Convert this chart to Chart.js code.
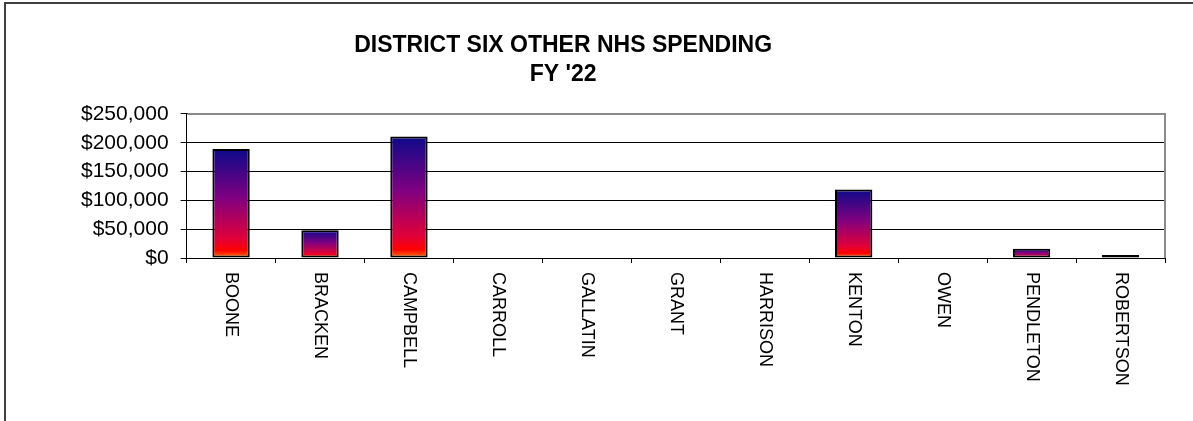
<!DOCTYPE html>
<html>
<head>
<meta charset="utf-8">
<script src="https://cdn.jsdelivr.net/npm/chart.js@4"></script>
<style>
  html, body { margin: 0; padding: 0; background: #fff; overflow: hidden; }
  #wrap { position: relative; width: 1193px; height: 421px; }
  #frame {
    position: absolute; left: 4px; top: 2px; width: 1300px; height: 500px;
    border-left: 2px solid #404040; border-top: 2px solid #404040;
    pointer-events: none;
  }
</style>
</head>
<body>
<div id="wrap">
  <canvas id="spendChart" width="1193" height="421"></canvas>
  <div id="frame"></div>
</div>
<script>
const counties = ["BOONE", "BRACKEN", "CAMPBELL", "CARROLL", "GALLATIN", "GRANT",
  "HARRISON", "KENTON", "OWEN", "PENDLETON", "ROBERTSON"];
const spending = [189000, 48000, 211000, 0, 0, 0, 0, 119000, 0, 16000, 5000];
const yTicks = [0, 50000, 100000, 150000, 200000, 250000];
const titleLines = ["DISTRICT SIX OTHER NHS SPENDING", "FY '22"];

const FONT = "Arial, 'Liberation Sans', sans-serif";

// each bar gets its own navy -> purple -> red -> orange fill
function barFill(ctx) {
  const chart = ctx.chart;
  if (!chart.chartArea || ctx.dataIndex === undefined) return "#800080";
  const y = chart.scales.y;
  const top = y.getPixelForValue(spending[ctx.dataIndex]);
  const bottom = y.getPixelForValue(0);
  if (bottom - top < 1) return "#000";
  const g = chart.ctx.createLinearGradient(0, top, 0, bottom);
  g.addColorStop(0, "#0c0a8a");
  g.addColorStop(0.45, "#800080");
  g.addColorStop(0.82, "#e0003a");
  g.addColorStop(0.93, "#ff0000");
  g.addColorStop(1, "#ff7a00");
  return g;
}

// shift the title so it sits where the original one did
const titleShift = {
  id: "titleShift",
  afterLayout(chart) {
    const t = chart.titleBlock;
    const half = (t.right - t.left) / 2;
    const center = chart.width * 0.472;
    t.left = center - half;
    t.right = center + half;
  }
};

// grey plot border on top and right
const plotBorder = {
  id: "plotBorder",
  afterDraw(chart) {
    const { left, top, right, bottom } = chart.chartArea;
    const c = chart.ctx;
    c.save();
    c.strokeStyle = "#8a8a8a";
    c.lineWidth = 2;
    c.beginPath();
    c.moveTo(left + 1, top);
    c.lineTo(right, top);
    c.lineTo(right, bottom);
    c.stroke();
    c.restore();
  }
};

// category labels turned to read top to bottom
const downLabels = {
  id: "downLabels",
  afterDraw(chart) {
    const x = chart.scales.x;
    const c = chart.ctx;
    c.save();
    c.fillStyle = "#000";
    c.font = "18px " + FONT;
    c.textAlign = "left";
    c.textBaseline = "middle";
    counties.forEach((name, i) => {
      c.save();
      c.translate(x.getPixelForValue(i), x.top + 14);
      c.rotate(Math.PI / 2);
      c.fillText(name, 0, 0);
      c.restore();
    });
    c.restore();
  }
};

new Chart(document.getElementById("spendChart"), {
  type: "bar",
  data: {
    labels: counties,
    datasets: [{
      data: spending,
      backgroundColor: barFill,
      borderColor: "#000",
      borderWidth: 2,
      borderSkipped: false,
      barPercentage: 0.42,
      categoryPercentage: 1
    }]
  },
  options: {
    responsive: false,
    animation: false,
    layout: { padding: { left: 69, right: 28, top: 0, bottom: 158 } },
    plugins: {
      legend: { display: false },
      tooltip: { enabled: false },
      title: {
        display: true,
        text: titleLines,
        color: "#000",
        font: { family: FONT, size: 23, weight: "bold", lineHeight: 1.26 },
        padding: { top: 31, bottom: 25 }
      }
    },
    scales: {
      x: {
        offset: true,
        grid: { drawOnChartArea: false, color: "#000", tickLength: 5, offset: true },
        border: { color: "#000", width: 1 },
        ticks: { display: false }
      },
      y: {
        min: 0,
        max: 250000,
        afterBuildTicks: scale => { scale.ticks = yTicks.map(v => ({ value: v })); },
        grid: { color: "#000", lineWidth: 1, tickLength: 6 },
        border: { color: "#000", width: 1 },
        ticks: {
          color: "#000",
          padding: 12,
          font: { family: FONT, size: 21 },
          callback: v => "$" + v.toLocaleString("en-US")
        }
      }
    }
  },
  plugins: [titleShift, plotBorder, downLabels]
});
</script>
</body>
</html>
